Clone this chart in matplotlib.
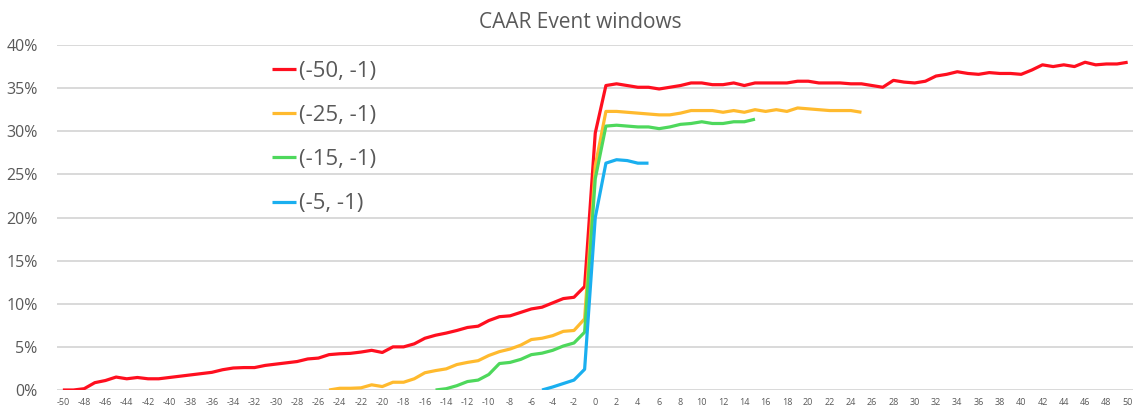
import matplotlib
matplotlib.use("Agg")
import matplotlib.pyplot as plt
from matplotlib.ticker import FuncFormatter, MultipleLocator
import numpy as np

days = list(range(-50, 51))

red = [0.0, 0.0, 0.15, 0.85, 1.1, 1.5, 1.3, 1.45, 1.3, 1.3,
       1.45, 1.6, 1.75, 1.9, 2.05, 2.35, 2.55, 2.6, 2.6, 2.85,
       3.0, 3.15, 3.3, 3.6, 3.7, 4.1, 4.2, 4.25, 4.4, 4.6,
       4.35, 5.0, 5.0, 5.35, 6.0, 6.35, 6.6, 6.9, 7.25, 7.4,
       8.05, 8.5, 8.6, 9.0, 9.4, 9.6, 10.1, 10.6, 10.75, 12.0,
       29.8,
       35.3, 35.5, 35.3, 35.1, 35.1, 34.9, 35.1, 35.3, 35.6, 35.6,
       35.4, 35.4, 35.6, 35.3, 35.6, 35.6, 35.6, 35.6, 35.8, 35.8,
       35.6, 35.6, 35.6, 35.5, 35.5, 35.3, 35.1, 35.9, 35.7, 35.6,
       35.8, 36.4, 36.6, 36.9, 36.7, 36.6, 36.8, 36.7, 36.7, 36.6,
       37.1, 37.7, 37.5, 37.7, 37.5, 38.0, 37.7, 37.8, 37.8, 38.0]

orange_days = list(range(-25, 26))
orange = [0.0, 0.2, 0.2, 0.25, 0.6, 0.4, 0.9, 0.9, 1.3, 2.0,
          2.25, 2.45, 2.95, 3.2, 3.4, 4.0, 4.45, 4.75, 5.2, 5.85,
          6.0, 6.3, 6.8, 6.9, 8.25,
          26.0,
          32.3, 32.3, 32.2, 32.1, 32.0, 31.9, 31.9, 32.1, 32.4, 32.4,
          32.4, 32.2, 32.4, 32.2, 32.5, 32.3, 32.5, 32.3, 32.7, 32.6,
          32.5, 32.4, 32.4, 32.4, 32.2]

green_days = list(range(-15, 16))
green = [0.0, 0.15, 0.5, 0.98, 1.15, 1.8, 3.07, 3.2, 3.55, 4.1,
         4.27, 4.6, 5.1, 5.45, 6.7,
         24.5,
         30.6, 30.7, 30.6, 30.5, 30.5, 30.3, 30.5, 30.8, 30.9, 31.1,
         30.9, 30.9, 31.1, 31.1, 31.4]

blue_days = list(range(-5, 6))
blue = [0.0, 0.35, 0.75, 1.15, 2.4, 20.0, 26.3, 26.7, 26.6, 26.3, 26.3]

series = [
    ("(-50, -1)", days, red, "#FF0F1F"),
    ("(-25, -1)", orange_days, orange, "#FFBA2E"),
    ("(-15, -1)", green_days, green, "#4ED85C"),
    ("(-5, -1)", blue_days, blue, "#1AAFEF"),
]

plt.rcParams['font.family'] = ['Open Sans', 'DejaVu Sans']

fig = plt.figure(figsize=(11.42, 4.12), dpi=100)
ax = fig.add_axes([57 / 1142, 1 - 390 / 412, (1133 - 57) / 1142, (390 - 45) / 412])

for label, xs, ys, col in series:
    ax.plot(xs, np.array(ys) / 100.0, color=col, lw=2.3, label=label,
            solid_joinstyle='round', solid_capstyle='butt')

ax.set_xlim(-50.55, 50.5)
ax.set_ylim(0, 0.40)
ax.yaxis.set_major_locator(MultipleLocator(0.05))
ax.yaxis.set_major_formatter(FuncFormatter(lambda v, p: f"{v*100:.0f}%"))
ax.set_xticks(days[::2])
ax.set_xticklabels([str(d) for d in days[::2]])
ax.grid(axis='y', color='#D9D9D9', lw=1.4)
ax.set_axisbelow(True)
for s in ax.spines.values():
    s.set_visible(False)
ax.tick_params(axis='both', length=0, colors='#595959')
ax.tick_params(axis='y', labelsize=11.5, pad=14)
ax.tick_params(axis='x', labelsize=6.5, pad=6)

fig.text(0.508, 1 - 22 / 412, "CAAR Event windows", ha='center', va='center',
         fontsize=15, color='#595959')

leg = ax.legend(loc='upper left', bbox_to_anchor=(252 / 1142, 1 - 41 / 412),
                bbox_transform=fig.transFigure, frameon=False, fontsize=16,
                handlelength=1.1, handletextpad=0.12, labelspacing=1.04,
                labelcolor='#595959')

fig.savefig("out.png", dpi=100)
